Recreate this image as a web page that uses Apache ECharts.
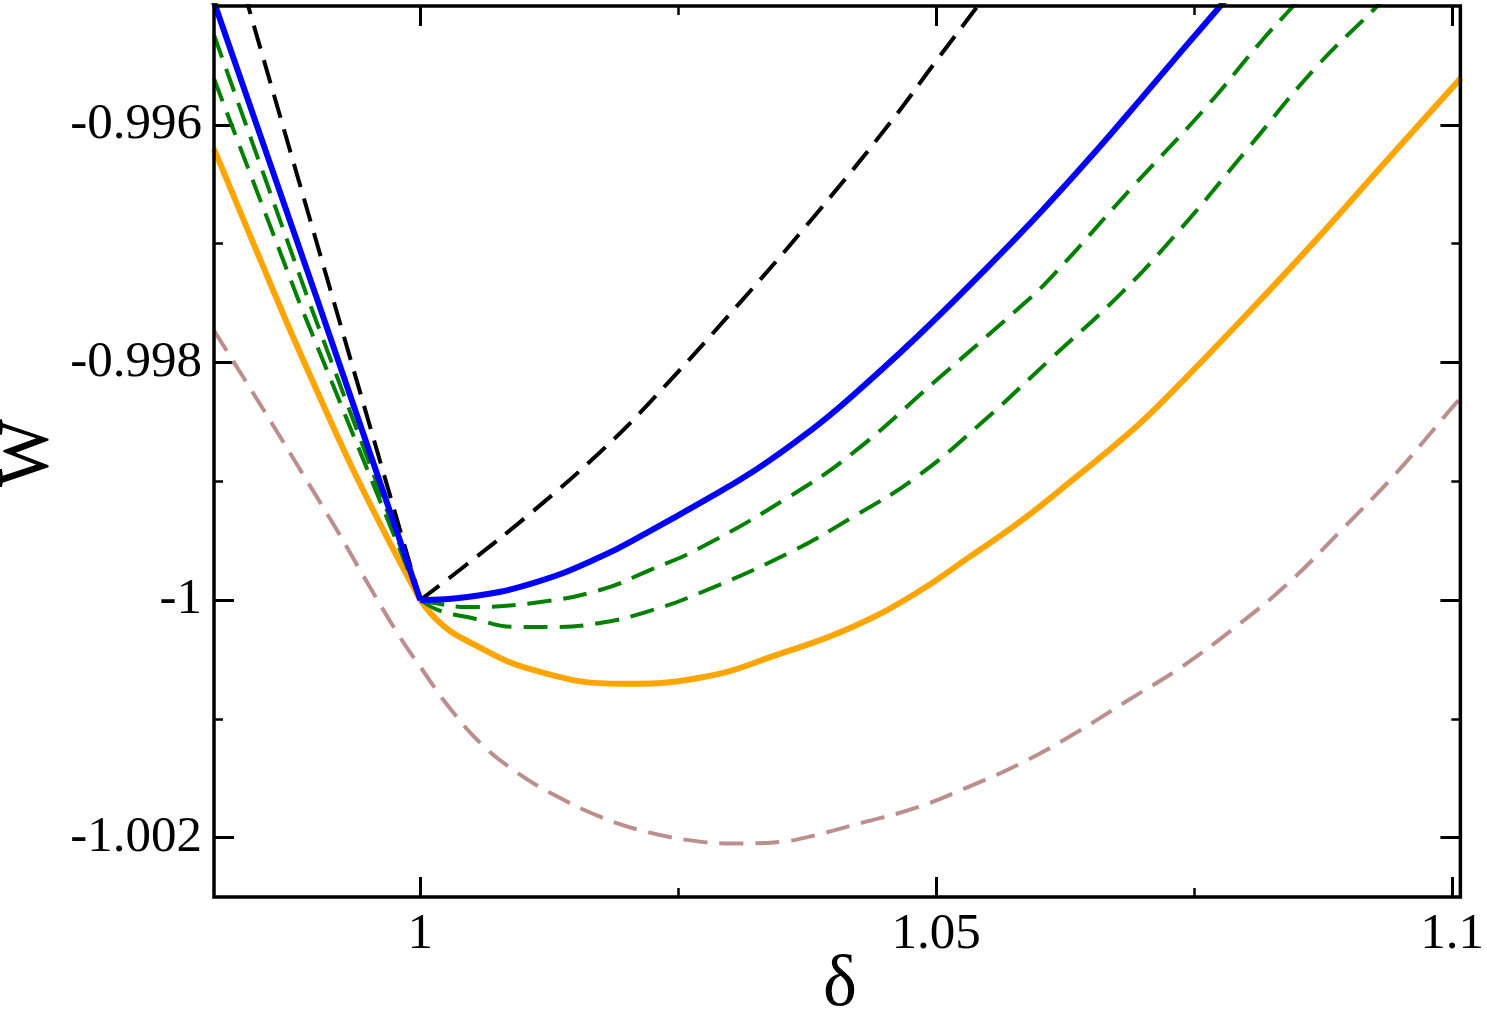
<!DOCTYPE html>
<html>
<head>
<meta charset="utf-8">
<script src="https://cdn.jsdelivr.net/npm/echarts@6/dist/echarts.min.js"></script>
<style>
html,body{margin:0;padding:0;background:#fff;}
#chart{width:1487px;height:1019px;}
</style>
</head>
<body>
<div id="chart"></div>
<script>
// ---- tick values ----
const xMajorTicks = [1, 1.05, 1.1];
const xMinorTicks = [1.025, 1.075];
const yMajorTicks = [-1.002, -1, -0.998, -0.996];
const yMinorTicks = [-1.001, -0.999, -0.997];

// ---- series data (δ, W); left branch (δ<=1) and right branch (δ>=1) ----
const blackLeftDelta  = [0.98, 0.98337, 0.99130, 1];
const blackLeftW      = [-0.994000, -0.995017, -0.997395, -1];
const blackRightDelta = [1, 1.00455, 1.01093, 1.01741, 1.02224, 1.03124, 1.03839, 1.04545, 1.05000, 1.05387, 1.05513];
const blackRightW     = [-1, -0.999697, -0.999252, -0.998756, -0.998336, -0.997471, -0.996748, -0.995992, -0.995462, -0.995017, -0.994874];

const blueLeftDelta  = [0.98, 0.99004, 1];
const blueLeftW      = [-0.994966, -0.997479, -1];
const blueRightDelta = [1, 1.00455, 1.01093, 1.01741, 1.02224, 1.02708, 1.03259, 1.03772, 1.04159, 1.04807, 1.05445, 1.06025, 1.06576, 1.06992, 1.07379, 1.07737, 1.07834];
const blueRightW     = [-1, -0.999975, -0.999857, -0.999639, -0.999420, -0.999185, -0.998899, -0.998580, -0.998303, -0.997790, -0.997244, -0.996723, -0.996193, -0.995773, -0.995378, -0.995017, -0.994916];

const greenALeftDelta  = [0.98, 0.98917, 1];
const greenALeftW      = [-0.995244, -0.997479, -1];
const greenARightDelta = [1, 1.00193, 1.00455, 1.01093, 1.01741, 1.02224, 1.02708, 1.03569, 1.04188, 1.05000, 1.05774, 1.06093, 1.06896, 1.07611, 1.08153, 1.08443, 1.08511];
const greenARightW     = [-1, -1.000034, -1.000059, -1.000025, -0.999916, -0.999748, -0.999563, -0.999134, -0.998765, -0.998151, -0.997563, -0.997303, -0.996529, -0.995857, -0.995294, -0.995017, -0.994950];

const greenBLeftDelta  = [0.98, 0.98820, 1];
const greenBLeftW      = [-0.995613, -0.997479, -1];
const greenBRightDelta = [1, 1.00193, 1.00455, 1.00938, 1.01257, 1.01741, 1.02224, 1.02708, 1.03569, 1.04188, 1.04807, 1.05445, 1.06093, 1.06799, 1.07379, 1.08027, 1.08675, 1.09255, 1.09333];
const greenBRightW     = [-1, -1.000092, -1.000143, -1.000227, -1.000227, -1.000193, -1.000092, -0.999941, -0.999605, -0.999303, -0.998966, -0.998504, -0.997983, -0.997412, -0.996866, -0.996193, -0.995521, -0.995017, -0.994941];

const orangeLeftDelta  = [0.98, 0.98627, 0.98965, 0.99323, 0.99681, 1];
const orangeLeftW      = [-0.996202, -0.997504, -0.998176, -0.998857, -0.999479, -1];
const orangeRightDelta = [1, 1.00193, 1.00455, 1.01093, 1.01963, 1.02708, 1.03511, 1.04188, 1.04807, 1.05319, 1.05832, 1.06354, 1.06867, 1.07224, 1.08027, 1.08675, 1.09313, 1.10087];
const orangeRightW     = [-1, -1.000193, -1.000345, -1.000588, -1.000706, -1.000655, -1.000445, -1.000227, -0.999941, -0.999639, -0.999328, -0.998966, -0.998597, -0.998303, -0.997580, -0.996975, -0.996353, -0.995605];

const brownDelta = [0.98, 0.98549, 0.98868, 0.99197, 0.99516, 0.99807, 1, 1.00290, 1.00609, 1.00938, 1.01257, 1.01741, 1.02224, 1.02708, 1.03027, 1.03511, 1.03772, 1.04284, 1.04807, 1.05319, 1.05832, 1.06354, 1.06867, 1.07379, 1.07901, 1.08414, 1.08926, 1.09449, 1.09961, 1.10087];
const brownW     = [-0.997731, -0.998496, -0.998950, -0.999420, -0.999899, -1.000319, -1.000563, -1.000916, -1.001227, -1.001454, -1.001622, -1.001824, -1.001958, -1.002034, -1.002050, -1.002034, -1.001992, -1.001874, -1.001748, -1.001571, -1.001370, -1.001118, -1.000840, -1.000563, -1.000227, -0.999857, -0.999412, -0.998941, -0.998420, -0.998294];

function pairs(xs, ys) { return xs.map((x, i) => [x, ys[i]]); }

const FONT = "'Liberation Serif', 'Times New Roman', serif";
const X_MIN = 0.98, X_MAX = 1.1008, Y_MIN = -1.0025, Y_MAX = -0.995;

function axisCfg(kind, pos, ticks, len, width, labels) {
  return {
    type: 'value', gridIndex: 0, position: pos,
    min: kind === 'x' ? X_MIN : Y_MIN, max: kind === 'x' ? X_MAX : Y_MAX,
    axisLine: { show: false, onZero: false },
    splitLine: { show: false },
    axisTick: { show: true, inside: true, length: len, customValues: ticks, lineStyle: { color: '#000', width: width } },
    axisLabel: labels ? { show: true, customValues: ticks, margin: 12, color: '#000', fontSize: 51, fontFamily: FONT,
      formatter: v => String(v) } : { show: false }
  };
}

function lineSeries(name, xs, ys, color, width, dash, smooth) {
  return {
    name: name, type: 'line', xAxisIndex: 0, yAxisIndex: 0,
    data: pairs(xs, ys), showSymbol: false, symbol: 'none', smooth: smooth, clip: true,
    lineStyle: { color: color, width: width, type: dash ? [24, 12] : 'solid', cap: 'butt', join: 'round' },
    z: 3
  };
}

const DW = 4, SW = 6;
const chart = echarts.init(document.getElementById('chart'), null, { renderer: 'canvas' });
chart.setOption({
  animation: false,
  backgroundColor: '#fff',
  textStyle: { fontFamily: FONT },
  grid: { left: 214, top: 6, right: 24, bottom: 122, show: true, borderColor: '#000', borderWidth: 3.5, backgroundColor: 'transparent', z: 10 },
  xAxis: [
    axisCfg('x', 'bottom', xMajorTicks, 20, 3, true),
    axisCfg('x', 'bottom', xMinorTicks, 9, 2.5, false),
    axisCfg('x', 'top', xMajorTicks, 20, 3, false),
    axisCfg('x', 'top', xMinorTicks, 9, 2.5, false)
  ],
  yAxis: [
    axisCfg('y', 'left', yMajorTicks, 20, 3, true),
    axisCfg('y', 'left', yMinorTicks, 9, 2.5, false),
    axisCfg('y', 'right', yMajorTicks, 20, 3, false),
    axisCfg('y', 'right', yMinorTicks, 9, 2.5, false)
  ],
  series: [
    lineSeries('brown', brownDelta, brownW, '#bc8f8f', DW, true, 0.4),
    lineSeries('orangeL', orangeLeftDelta, orangeLeftW, '#ffa500', SW, false, 0.3),
    lineSeries('orangeR', orangeRightDelta, orangeRightW, '#ffa500', SW, false, 0.45),
    lineSeries('greenBL', greenBLeftDelta, greenBLeftW, '#008000', DW, true, false),
    lineSeries('greenBR', greenBRightDelta, greenBRightW, '#008000', DW, true, 0.45),
    lineSeries('greenAL', greenALeftDelta, greenALeftW, '#008000', DW, true, false),
    lineSeries('greenAR', greenARightDelta, greenARightW, '#008000', DW, true, 0.45),
    lineSeries('blackL', blackLeftDelta, blackLeftW, '#000000', DW, true, false),
    lineSeries('blackR', blackRightDelta, blackRightW, '#000000', DW, true, 0.45),
    lineSeries('blueL', blueLeftDelta, blueLeftW, '#0000ff', SW, false, false),
    lineSeries('blueR', blueRightDelta, blueRightW, '#0000ff', SW, false, 0.45)
  ],
  graphic: [
    { type: 'text', x: 28, y: 453, rotation: Math.PI / 2,
      style: { text: 'W', fontSize: 72, fontFamily: FONT, fill: '#000', align: 'center', verticalAlign: 'middle' } },
    { type: 'text', x: 840, y: 986,
      style: { text: 'δ', fontSize: 72, fontFamily: FONT, fill: '#000', align: 'center', verticalAlign: 'middle' } }
  ]
});
</script>
</body>
</html>
